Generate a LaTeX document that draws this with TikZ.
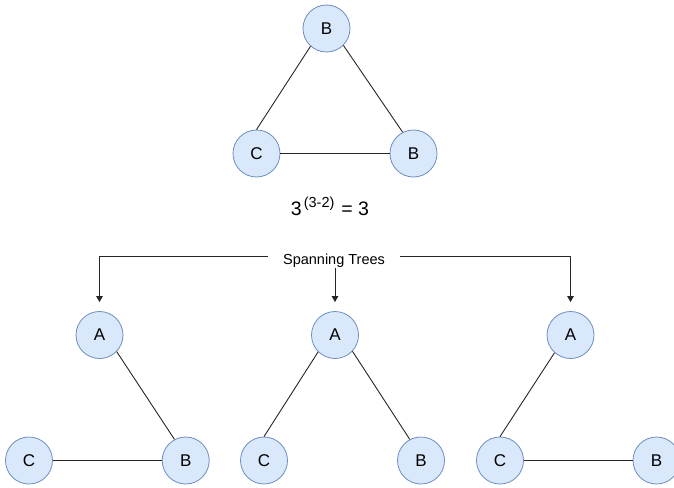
\documentclass[tikz,border=0pt]{standalone}
\usepackage{fontspec}
\setmainfont{Liberation Sans}
\usetikzlibrary{arrows.meta}
\begin{document}
\begin{tikzpicture}[x=1pt,y=-1pt,
  vertex/.style={circle,draw=vborder,fill=vfill,line width=0.8pt,
    minimum size=47pt,inner sep=0pt,font=\fontsize{17}{20}\selectfont},
  edge/.style={draw=black!85,line width=0.9pt},
  branch/.style={draw=black!85,line width=0.9pt,
    -{Triangle[width=6.5pt,length=6pt]},shorten >=9pt}]
\definecolor{vfill}{HTML}{DAE8FC}
\definecolor{vborder}{HTML}{6C8EBF}
\useasboundingbox (0,0) rectangle (674,487);

% complete graph on three vertices
\node[vertex] (t) at (326.5,28.5) {B};
\node[vertex] (tc) at (256.5,153.5) {C};
\node[vertex] (tb) at (413.5,153.5) {B};
\draw[edge] (t.228) -- (tc.90);
\draw[edge] (t.315) -- (tb.117);
\draw[edge] (tc.east) -- (tb.west);

% Cayley's formula
\node[font=\fontsize{19.5}{22}\selectfont,anchor=base] (eq) at (330,215)
  {3\hspace{2pt}\raisebox{7.5pt}{\fontsize{14.5}{16}\selectfont(3-2)}\hspace{7pt}= 3};

% caption and arrows to the three trees
\node[font=\fontsize{14.5}{17}\selectfont,inner xsep=15pt,inner ysep=1pt,anchor=base] (st) at (334,264) {Spanning Trees};

% first tree
\node[vertex] (a1) at (99.5,335) {A};
\node[vertex] (c1) at (29,460.5) {C};
\node[vertex] (b1) at (185.7,460.5) {B};
\draw[edge] (a1.316) -- (b1.118);
\draw[edge] (c1.east) -- (b1.west);

% second tree
\node[vertex] (a2) at (335,335) {A};
\node[vertex] (c2) at (264,460.5) {C};
\node[vertex] (b2) at (421,460.5) {B};
\draw[edge] (a2.225) -- (c2.90);
\draw[edge] (a2.317) -- (b2.118);

% third tree
\node[vertex] (a3) at (570.5,335) {A};
\node[vertex] (c3) at (500,460.5) {C};
\node[vertex] (b3) at (656.5,460.5) {B};
\draw[edge] (a3.228) -- (c3.90);
\draw[edge] (c3.east) -- (b3.west);

% the branch lines leave the caption a little above its middle
\draw[branch] (st.west) ++(0,-3.5) -| (a1.north);
\draw[branch] (st.south -| a2.north) -- (a2.north);
\draw[branch] (st.east) ++(0,-3.5) -| (a3.north);
\end{tikzpicture}
\end{document}
